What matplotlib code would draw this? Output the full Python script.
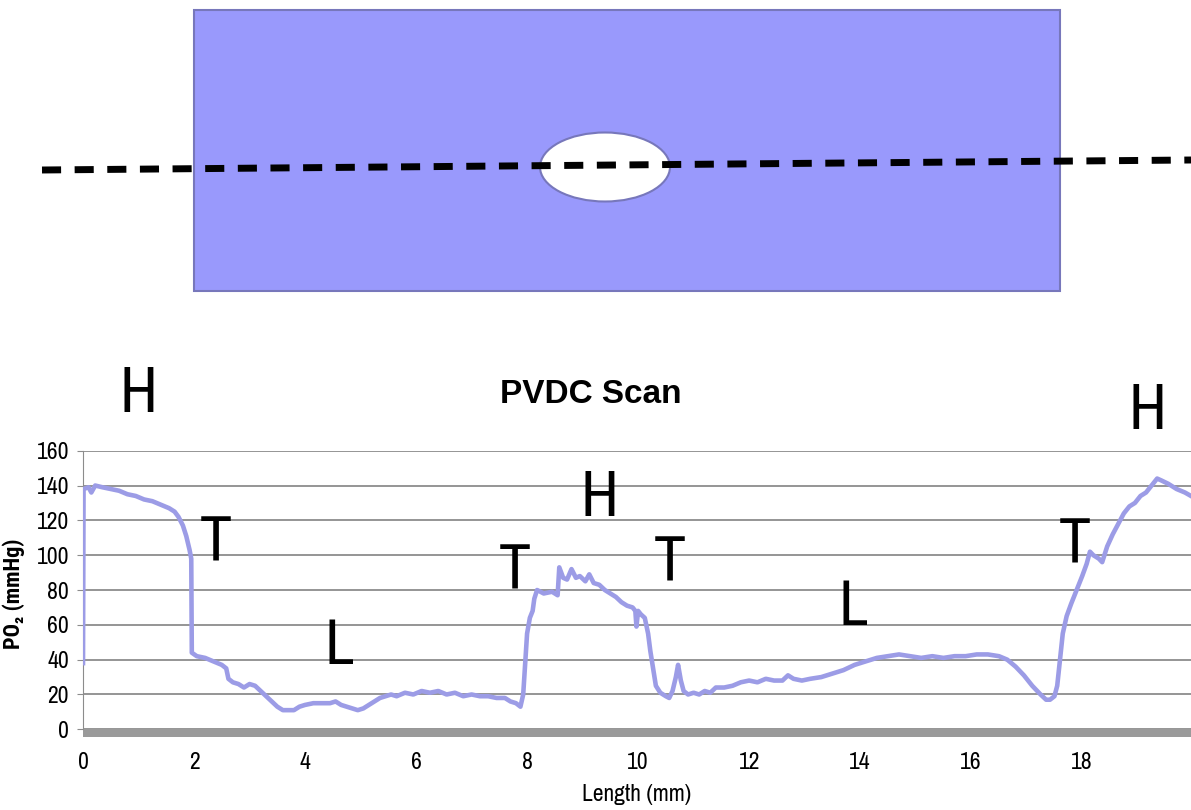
import matplotlib
matplotlib.use('Agg')
import matplotlib.pyplot as plt
import matplotlib.patches as patches

# PVDC scan trace
length_mm = [0, 0.01, 0.1, 0.15, 0.22, 0.35, 0.5, 0.65, 0.8, 0.95, 1.1, 1.25, 1.4, 1.55, 1.65,
             1.72, 1.8, 1.86, 1.92, 1.95, 1.96, 2.05, 2.2, 2.35, 2.5, 2.58, 2.62, 2.7, 2.8, 2.9,
             3.0, 3.1, 3.2, 3.3, 3.4, 3.5, 3.6, 3.7, 3.8, 3.9, 4.0, 4.15, 4.3, 4.45, 4.55, 4.65,
             4.75, 4.85, 4.95, 5.05, 5.15, 5.25, 5.35, 5.45, 5.55, 5.65, 5.8, 5.95, 6.1, 6.25,
             6.4, 6.55, 6.7, 6.85, 7.0, 7.15, 7.3, 7.45, 7.6, 7.7, 7.8, 7.88, 7.93, 7.97, 8.0,
             8.05, 8.1, 8.13, 8.18, 8.3, 8.45, 8.55, 8.58, 8.65, 8.72, 8.8, 8.88, 8.95, 9.05,
             9.12, 9.2, 9.3, 9.4, 9.5, 9.6, 9.7, 9.8, 9.9, 9.95, 9.97, 10.0, 10.05, 10.12, 10.18,
             10.22, 10.27, 10.32, 10.4, 10.5, 10.56, 10.62, 10.68, 10.72, 10.77, 10.82, 10.9,
             11.0, 11.1, 11.2, 11.3, 11.4, 11.55, 11.7, 11.85, 12.0, 12.15, 12.3, 12.45, 12.6,
             12.7, 12.8, 12.95, 13.1, 13.3, 13.5, 13.7, 13.9, 14.1, 14.3, 14.5, 14.7, 14.9, 15.1,
             15.3, 15.5, 15.7, 15.9, 16.1, 16.3, 16.5, 16.65, 16.8, 16.95, 17.1, 17.25, 17.35,
             17.42, 17.5, 17.55, 17.6, 17.65, 17.72, 17.8, 17.9, 18.0, 18.08, 18.14, 18.2, 18.3,
             18.36, 18.45, 18.55, 18.65, 18.75, 18.85, 18.95, 19.05, 19.15, 19.25, 19.35, 19.42,
             19.55, 19.7, 19.85, 19.96]
po2_mmhg = [38, 138, 139, 136, 140, 139, 138, 137, 135, 134, 132, 131, 129, 127, 125,
            122, 117, 111, 103, 98, 44, 42, 41, 39, 37, 35, 29, 27, 26, 24,
            26, 25, 22, 19, 16, 13, 11, 11, 11, 13, 14, 15, 15, 15, 16, 14,
            13, 12, 11, 12, 14, 16, 18, 19, 20, 19, 21, 20, 22, 21,
            22, 20, 21, 19, 20, 19, 19, 18, 18, 16, 15, 13, 20, 40, 55,
            64, 68, 75, 80, 78, 79, 77, 93, 87, 86, 92, 87, 88, 85,
            89, 84, 83, 80, 78, 76, 73, 71, 70, 68, 59, 68, 66, 64, 55,
            45, 35, 25, 21, 19, 18, 22, 30, 37, 28, 22, 20,
            21, 20, 22, 21, 24, 24, 25, 27, 28, 27, 29, 28, 28,
            31, 29, 28, 29, 30, 32, 34, 37, 39, 41, 42, 43, 42, 41,
            42, 41, 42, 42, 43, 43, 42, 40, 36, 31, 25, 20, 17,
            17, 19, 25, 40, 55, 65, 72, 80, 88, 95, 102, 100, 98,
            96, 105, 112, 118, 124, 128, 130, 134, 136, 140, 144, 143,
            141, 138, 136, 134]

y_ticks = [0, 20, 40, 60, 80, 100, 120, 140, 160]
x_ticks = [0, 2, 4, 6, 8, 10, 12, 14, 16, 18]

narrow = ['Archivo Narrow', 'Liberation Sans', 'DejaVu Sans']
narrow_bold = ['Roboto Condensed', 'Archivo Narrow', 'DejaVu Sans']
arial = ['Liberation Sans', 'DejaVu Sans']

fig = plt.figure(figsize=(11.91, 8.10), dpi=100)

# Top sketch: sample with a hole and the scan path (pixel coords)
top = fig.add_axes([0, 0, 1, 1])
top.set_xlim(0, 1191)
top.set_ylim(810, 0)
top.axis('off')
top.add_patch(patches.Rectangle((194, 10), 866, 281, facecolor='#9999fc',
                                edgecolor='#7777bb', linewidth=1.5))
top.add_patch(patches.Ellipse((605, 167), 130, 69, facecolor='white',
                              edgecolor='#7777bb', linewidth=1.5))
top.plot([42, 1191], [170, 160], color='black', linewidth=5,
         dashes=(2.75, 1.95), dash_capstyle='butt')

# Chart
ax = fig.add_axes([83 / 1191, 73.2 / 810, 1 - 83 / 1191, 286.1 / 810])
ax.set_facecolor('none')
ax.plot(length_mm, po2_mmhg, color='#9c9ce6', linewidth=3.3, zorder=3)
ax.set_xlim(0, 19.96)
ax.set_ylim(-4.3, 160)
ax.axhspan(-4.3, 0, color='#9a9a9a', zorder=2)
for yv in y_ticks:
    ax.axhline(yv, color='#8c8c8c', linewidth=1.3, zorder=1)

ax.set_yticks(y_ticks)
ax.set_xticks(x_ticks)
for s in ['top', 'right', 'bottom']:
    ax.spines[s].set_visible(False)
ax.spines['left'].set_color('#8c8c8c')
ax.spines['left'].set_bounds(0, 160)
ax.tick_params(axis='y', length=4, color='#8c8c8c', pad=6)
ax.tick_params(axis='x', length=0, pad=11)
for lab in ax.get_xticklabels() + ax.get_yticklabels():
    lab.set_family(narrow)
    lab.set_fontsize(17)

ax.set_xlabel('Length (mm)', family=narrow, fontsize=17, labelpad=8)
ax.set_ylabel('PO₂ (mmHg)', family=narrow_bold, fontsize=16, fontweight='bold', labelpad=8)

ax.text(9.14, 192, 'PVDC Scan', family=arial, fontsize=24, fontweight='bold',
        ha='center', va='center', clip_on=False)

letters = [('H', 1.0, 192.6), ('H', 9.3, 133), ('H', 19.17, 182.8),
           ('T', 2.4, 107.3), ('T', 7.78, 91), ('T', 10.57, 95.8), ('T', 17.87, 105.9),
           ('L', 4.61, 47.8), ('L', 13.87, 70.2)]
for ch, xv, yv in letters:
    ax.text(xv, yv, ch, family=narrow, fontsize=46, ha='center', va='center',
            clip_on=False, zorder=5)

fig.savefig('out.png', dpi=100, facecolor='white')
